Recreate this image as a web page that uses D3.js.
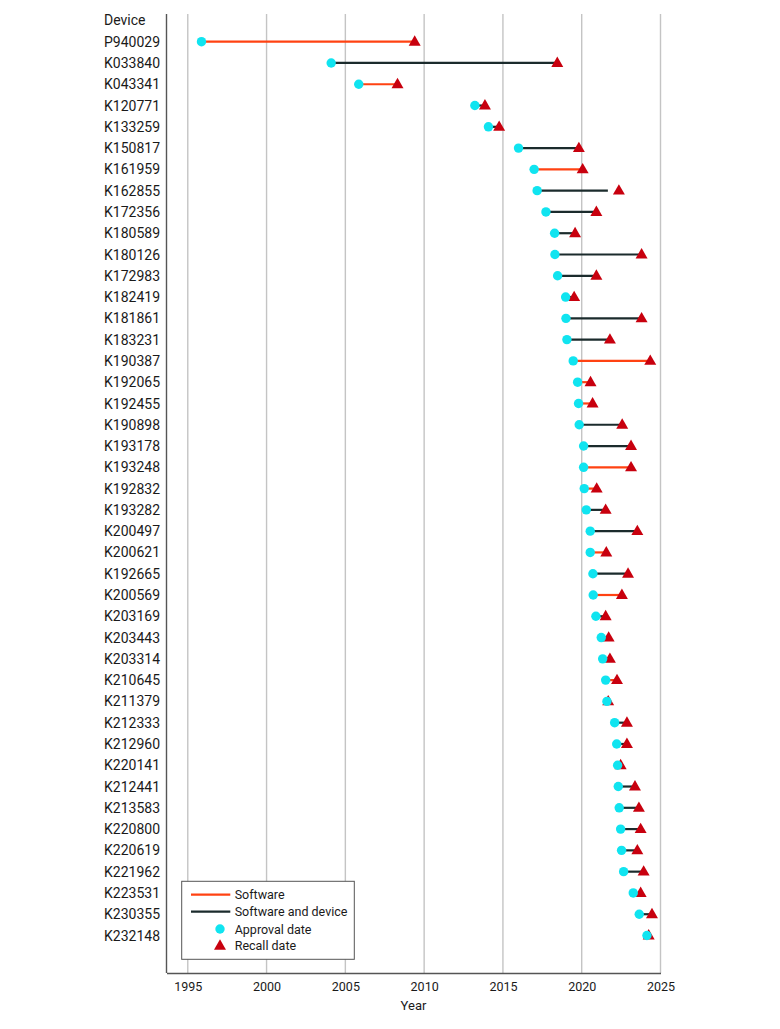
<!DOCTYPE html>
<html lang="en">
<head>
  <meta charset="UTF-8">
  <title>Device approval and recall dates</title>
  <script src="https://d3js.org/d3.v7.min.js"></script>
  <style>
    body { margin: 0; background: #fff; font-family: Roboto, "Liberation Sans", sans-serif; }
    svg text { fill: #1a1a1a; }
  </style>
</head>
<body>
  <div id="chart"></div>

  <script>
    // devices, top to bottom
    const devices = ["P940029","K033840","K043341","K120771","K133259","K150817","K161959","K162855",
      "K172356","K180589","K180126","K172983","K182419","K181861","K183231","K190387","K192065",
      "K192455","K190898","K193178","K193248","K192832","K193282","K200497","K200621","K192665",
      "K200569","K203169","K203443","K203314","K210645","K211379","K212333","K212960","K220141",
      "K212441","K213583","K220800","K220619","K221962","K223531","K230355","K232148"];

    // S = software, SD = software and device
    const kind = ["S","SD","S","SD","SD","SD","S","SD","SD","SD","SD","SD","SD","SD","SD","S","S",
      "S","SD","SD","S","S","SD","SD","S","SD","S","SD","SD","SD","S","SD","SD","SD","SD",
      "SD","SD","SD","SD","SD","SD","SD","SD"];

    const approval = [1995.87,2004.10,2005.85,2013.22,2014.08,2015.99,2016.98,2017.17,2017.73,2018.28,
      2018.30,2018.47,2018.98,2019.00,2019.06,2019.46,2019.74,2019.80,2019.84,2020.12,2020.12,2020.16,
      2020.29,2020.54,2020.54,2020.71,2020.73,2020.90,2021.24,2021.33,2021.52,2021.60,2022.09,2022.22,
      2022.28,2022.32,2022.38,2022.47,2022.53,2022.66,2023.27,2023.65,2024.14];

    const recall = [2009.40,2018.45,2008.31,2013.86,2014.76,2019.82,2020.06,2022.36,2020.93,2019.58,
      2023.80,2020.93,2019.52,2023.80,2021.79,2024.35,2020.56,2020.69,2022.57,2023.13,2023.13,2020.95,
      2021.52,2023.53,2021.56,2022.94,2022.55,2021.52,2021.71,2021.79,2022.24,2021.68,2022.87,2022.87,
      2022.47,2023.38,2023.63,2023.74,2023.53,2023.93,2023.74,2024.46,2024.25];

    // one line stops short of its recall marker
    const lineEnd = {K162855: 2021.66};

    const years = [1995, 2000, 2005, 2010, 2015, 2020, 2025];

    const colors = {S: "#ff4212", SD: "#1b2b2c"};
    const legendLabels = {S: "Software", SD: "Software and device"};

    const data = devices.map((d, i) => ({
      device: d, kind: kind[i], approval: approval[i], recall: recall[i],
      end: lineEnd[d] !== undefined ? lineEnd[d] : recall[i]
    }));

    const W = 780, H = 1029;
    const plot = {left: 166.5, right: 660.5, top: 14, bottom: 973};

    const svg = d3.select("#chart").append("svg")
      .attr("width", W).attr("height", H);

    const x = d3.scaleLinear().domain([1993.65, 2025]).range([plot.left, plot.right]);
    const y = d3.scalePoint().domain(["Device", ...devices]).range([20.4, 935.5]);

    // grid lines
    svg.append("g").selectAll("line")
      .data(years)
      .join("line")
      .attr("x1", d => x(d)).attr("x2", d => x(d))
      .attr("y1", plot.top).attr("y2", plot.bottom)
      .attr("stroke", "#c4c4c4").attr("stroke-width", 1.4);

    // x axis
    const xAxis = svg.append("g")
      .attr("transform", `translate(0,${plot.bottom})`)
      .call(d3.axisBottom(x).tickValues(years).tickFormat(d3.format("d")).tickSize(0).tickPadding(9));
    xAxis.select(".domain").attr("stroke", "#555").attr("stroke-width", 1.4);
    xAxis.selectAll("text").attr("font-size", 12.5).attr("font-family", "Roboto, sans-serif").attr("fill", "#1a1a1a");

    // left axis line
    svg.append("line")
      .attr("x1", plot.left).attr("x2", plot.left)
      .attr("y1", plot.top).attr("y2", plot.bottom)
      .attr("stroke", "#555").attr("stroke-width", 1.4);

    svg.append("text")
      .attr("x", (plot.left + plot.right) / 2).attr("y", 1010)
      .attr("text-anchor", "middle").attr("font-size", 13)
      .text("Year");

    // device labels
    svg.append("g").selectAll("text")
      .data(y.domain())
      .join("text")
      .attr("x", 104).attr("y", d => y(d))
      .attr("dy", "0.36em")
      .attr("font-size", 14)
      .text(d => d);

    // segments
    svg.append("g").selectAll("line")
      .data(data)
      .join("line")
      .attr("x1", d => x(d.approval)).attr("x2", d => x(d.end))
      .attr("y1", d => y(d.device)).attr("y2", d => y(d.device))
      .attr("stroke", d => colors[d.kind])
      .attr("stroke-width", 2.2);

    const tri = d3.symbol().type(d3.symbolTriangle).size(62);

    svg.append("g").selectAll("path")
      .data(data)
      .join("path")
      .attr("d", tri)
      .attr("transform", d => `translate(${x(d.recall)},${y(d.device) + 0.5})`)
      .attr("fill", "#c8000e");

    svg.append("g").selectAll("circle")
      .data(data)
      .join("circle")
      .attr("cx", d => x(d.approval)).attr("cy", d => y(d.device))
      .attr("r", 4.7)
      .attr("fill", "#10e4f0");

    // legend
    const lg = svg.append("g");
    lg.append("rect")
      .attr("x", 181.7).attr("y", 881.3)
      .attr("width", 172.6).attr("height", 78)
      .attr("fill", "#fff").attr("stroke", "#555").attr("stroke-width", 1);

    const rowsY = [894.7, 911.7, 929, 945.7];
    ["S", "SD"].forEach((k, i) => {
      lg.append("line")
        .attr("x1", 191).attr("x2", 230.3)
        .attr("y1", rowsY[i]).attr("y2", rowsY[i])
        .attr("stroke", colors[k]).attr("stroke-width", 2.2);
      lg.append("text").attr("x", 234.7).attr("y", rowsY[i]).attr("dy", "0.36em")
        .attr("font-size", 12.5).text(legendLabels[k]);
    });
    lg.append("circle").attr("cx", 220).attr("cy", rowsY[2]).attr("r", 4.7).attr("fill", "#10e4f0");
    lg.append("text").attr("x", 234.7).attr("y", rowsY[2]).attr("dy", "0.36em")
      .attr("font-size", 12.5).text("Approval date");
    lg.append("path").attr("d", tri)
      .attr("transform", `translate(220,${rowsY[3] + 0.5})`).attr("fill", "#c8000e");
    lg.append("text").attr("x", 234.7).attr("y", rowsY[3]).attr("dy", "0.36em")
      .attr("font-size", 12.5).text("Recall date");
  </script>
</body>
</html>
